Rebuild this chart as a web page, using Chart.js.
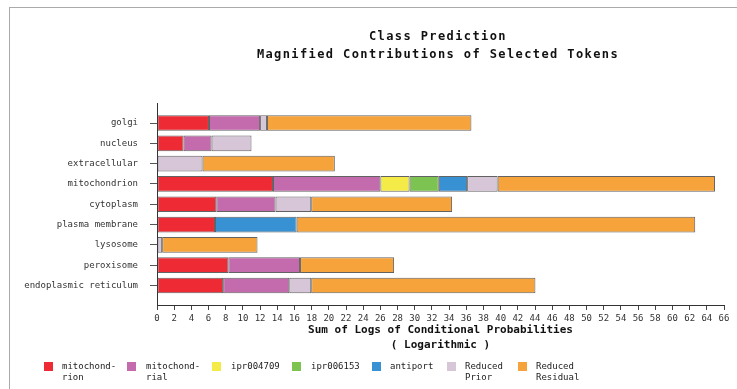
<!DOCTYPE html>
<html>
<head>
<meta charset="utf-8">
<script src="https://cdn.jsdelivr.net/npm/chart.js@4/dist/chart.umd.min.js"></script>
<style>
  html, body { margin: 0; padding: 0; background: #fff; }
  #wrap { position: relative; width: 737px; height: 389px; overflow: hidden; font-family: "DejaVu Sans Mono", "Liberation Mono", monospace; }
  #frame { position: absolute; left: 9px; top: 7px; right: -2px; bottom: -2px; border-left: 1px solid #aaa; border-top: 1px solid #aaa; }
  #c { position: absolute; left: 0; top: 0; }
  .title { position: absolute; left: 188px; width: 500px; text-align: center; font-weight: bold; font-size: 12px; letter-spacing: 1.4px; line-height: 14px; color: #111; white-space: nowrap; }
  .lbox { position: absolute; top: 362px; width: 9px; height: 9px; }
  .ltxt { position: absolute; top: 361px; font-size: 9px; line-height: 11px; color: #222; white-space: pre; }
</style>
</head>
<body>
<div id="wrap">
  <div id="frame"></div>
  <canvas id="c" width="737" height="389"></canvas>
  <div class="title" id="t1" style="top:29px"></div>
  <div class="title" id="t2" style="top:47px"></div>
  <div id="legend"></div>
</div>
<script>
const titleMain = "Class Prediction";
const titleSub = "Magnified Contributions of Selected Tokens";
const axisTitle = ["Sum of Logs of Conditional Probabilities", "( Logarithmic )"];

const categories = ["golgi", "nucleus", "extracellular", "mitochondrion", "cytoplasm",
  "plasma membrane", "lysosome", "peroxisome", "endoplasmic reticulum"];

const seriesNames = ["mitochond-\nrion", "mitochond-\nrial", "ipr004709", "ipr006153",
  "antiport", "Reduced\nPrior", "Reduced\nResidual"];
const seriesColors = ["#EE2B34", "#C46BAE", "#F5EB48", "#7DC352", "#3791D2", "#D6C6D8", "#F6A33C"];

// segment lengths, in category order
const mitochondrion = [6.05, 3.1, null, 13.5, 6.9, 6.75, null, 8.3, 7.7];
const mitochondrial = [5.95, 3.25, null, 12.5, 6.9, null, null, 8.35, 7.7];
const ipr004709 = [null, null, null, 3.4, null, null, null, null, null];
const ipr006153 = [null, null, null, 3.4, null, null, null, null, null];
const antiport = [null, null, null, 3.3, null, 9.5, null, null, null];
const reducedPrior = [0.8, 4.65, 5.3, 3.55, 4.15, null, 0.6, null, 2.55];
const reducedResidual = [23.8, null, 15.4, 25.3, 16.4, 46.4, 11.1, 10.95, 26.1];

const xMin = 0, xMax = 66, xStep = 2;

const seriesValues = [mitochondrion, mitochondrial, ipr004709, ipr006153, antiport, reducedPrior, reducedResidual];

document.getElementById('t1').textContent = titleMain;
document.getElementById('t2').textContent = titleSub;

const FONT = '"DejaVu Sans Mono", "Liberation Mono", monospace';

const datasets = seriesValues.map((vals, k) => ({
  label: seriesNames[k].replace('\n', ''),
  data: vals.map((v, i) => ({ x: v, y: i })).filter(d => d.x !== null),
  backgroundColor: seriesColors[k],
  borderColor: 'rgba(70,70,70,0.85)',
  borderWidth: 1,
  borderSkipped: false,
  barPercentage: 0.77,
  categoryPercentage: 1.0
}));

new Chart(document.getElementById('c'), {
  type: 'bar',
  data: { datasets },
  options: {
    indexAxis: 'y',
    responsive: false,
    animation: false,
    devicePixelRatio: 1,
    layout: { padding: { left: 0, right: 13, top: 103, bottom: 0 } },
    plugins: { legend: { display: false }, tooltip: { enabled: false }, title: { display: false } },
    scales: {
      x: {
        type: 'linear', position: 'bottom', stacked: true, min: xMin, max: xMax,
        offset: false,
        ticks: { stepSize: xStep, autoSkip: false, maxRotation: 0, padding: 3,
                 font: { family: FONT, size: 9 }, color: '#333' },
        grid: { drawOnChartArea: false, drawTicks: true, tickLength: 5, color: '#444', offset: false },
        border: { display: true, color: '#333' },
        title: { display: true, text: axisTitle, color: '#111',
                 font: { family: FONT, size: 11, weight: 'bold', lineHeight: 1.3 },
                 padding: { top: 0, bottom: 37 } },
        afterFit: s => { s.height = 84; }
      },
      y: {
        type: 'linear', reverse: true, stacked: true, min: -0.985, max: 8.96,
        offset: false,
        afterBuildTicks: s => { s.ticks = categories.map((c, i) => ({ value: i })); },
        ticks: { autoSkip: false, padding: 12, callback: v => categories[v],
                 font: { family: FONT, size: 9 }, color: '#333' },
        grid: { drawOnChartArea: false, drawTicks: true, tickLength: 7, color: '#555', offset: false },
        border: { display: true, color: '#333' },
        afterFit: s => { s.width = 157; }
      }
    }
  }
});

// HTML legend built from series arrays
const boxX = [44, 127, 212, 292, 372, 447, 518];
const txtX = [62, 146, 231, 311, 390, 465, 536];
const lg = document.getElementById('legend');
seriesNames.forEach((name, k) => {
  const b = document.createElement('div');
  b.className = 'lbox';
  b.style.left = boxX[k] + 'px';
  b.style.background = seriesColors[k];
  lg.appendChild(b);
  const t = document.createElement('div');
  t.className = 'ltxt';
  t.style.left = txtX[k] + 'px';
  t.textContent = name;
  lg.appendChild(t);
});
</script>
</body>
</html>
